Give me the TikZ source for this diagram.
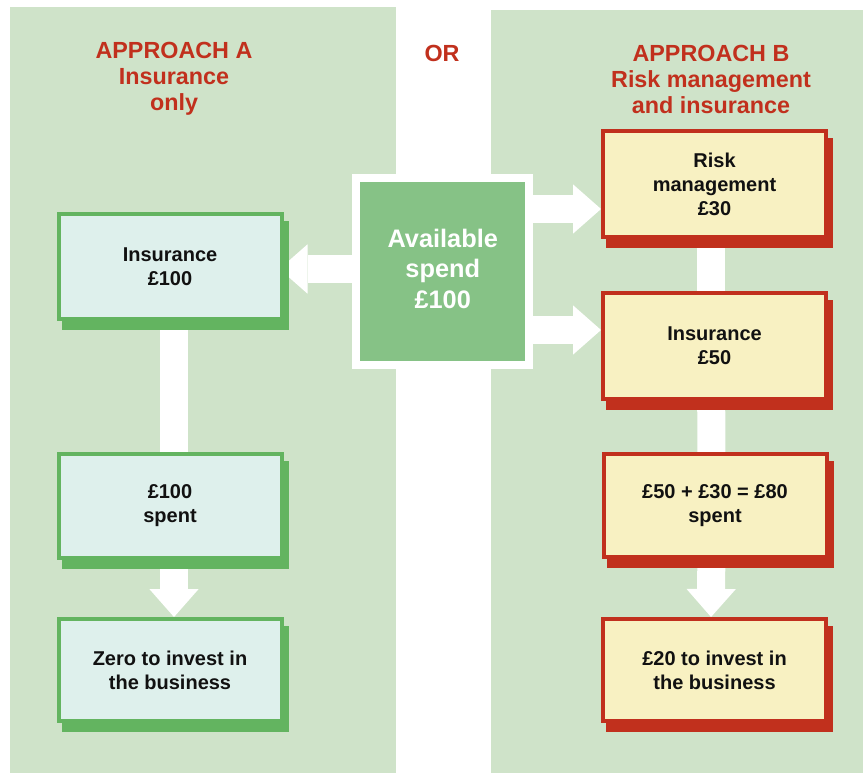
\documentclass[tikz,border=0pt]{standalone}
\usepackage{fontspec}
\setmainfont{Liberation Sans}
\usetikzlibrary{shadows,arrows.meta}
\definecolor{panel}{HTML}{CFE3C9}
\definecolor{bdA}{HTML}{63B460}
\definecolor{fillA}{HTML}{DEF0EC}
\definecolor{bdB}{HTML}{C1301D}
\definecolor{fillB}{HTML}{F8F1C2}
\definecolor{cgreen}{HTML}{86C286}
\definecolor{tred}{HTML}{C1301D}
\definecolor{ink}{HTML}{111111}
\pgfdeclarelayer{back}
\pgfdeclarelayer{links}
\pgfsetlayers{back,links,main}
\tikzset{
  boxbase/.style={rectangle, line width=3pt, minimum width=167.25pt, text=ink,
    align=center, font=\fontsize{15}{18}\selectfont\bfseries, inner sep=0pt},
  boxA/.style={boxbase, draw=bdA, fill=fillA,
    drop shadow={shadow xshift=3.75pt, shadow yshift=-6.75pt, fill=bdA, draw=bdA, line width=3pt, opacity=1}},
  boxB/.style={boxbase, draw=bdB, fill=fillB,
    drop shadow={shadow xshift=3.75pt, shadow yshift=-6.75pt, fill=bdB, draw=bdB, line width=3pt, opacity=1}},
  ttl/.style={text=tred, align=center, font=\fontsize{17.5}{19.5}\selectfont\bfseries, inner sep=0pt},
  bar/.style={draw=white, line width=21pt},
  bigarrow/.style={bar, -{Triangle[length=21pt, width=37pt, line width=0pt]}},
  centrebox/.style={rectangle, fill=cgreen, draw=white, line width=6pt,
    minimum width=130pt, minimum height=140.25pt, inner sep=0pt, text=white,
    align=center, font=\fontsize{19}{23}\selectfont\bfseries, text depth=4.5pt},
}
\begin{document}
\begin{tikzpicture}[x=0.75pt, y=-0.75pt]
\useasboundingbox (0,0) rectangle (863,773);
\begin{pgfonlayer}{back}
  \fill[white] (0,0) rectangle (863,773);
  \fill[panel] (10,7) rectangle (396,773);
  \fill[panel] (491,10) rectangle (863,773);
\end{pgfonlayer}

% titles
\node[ttl] (ta) at (174,79) {APPROACH A\\Insurance\\only};
\node[ttl] (tor) at (442,53) {OR};
\node[ttl] (tb) at (711,79) {APPROACH B\\Risk management\\and insurance};

% centre
\node[centrebox] (cen) at (442.75,271.5) {Available\\spend\\£100};

% approach A
\node[boxA, minimum height=78.75pt] (L1) at (170,266.5) {Insurance\\£100};
\node[boxA, minimum height=78pt] (L2) at (170,506) {£100\\spent};
\node[boxA, minimum height=76.5pt] (L3) at (170,670) {Zero to invest in\\the business};

% approach B
\node[boxB, minimum height=79.5pt] (R1) at (714.5,184) {Risk\\management\\£30};
\node[boxB, minimum height=79.5pt] (R2) at (714.5,346) {Insurance\\£50};
\node[boxB, minimum height=77.25pt] (R3) at (715,505.5) {£50 + £30 = £80\\spent};
\node[boxB, minimum height=76.5pt] (R4) at (714.5,670) {£20 to invest in\\the business};

\begin{pgfonlayer}{links}
  \draw[bigarrow, shorten >=-3pt] (cen.center |- 0,269) -- (L1.east |- 0,269);
  \draw[bigarrow] (cen.center |- 0,209) -- (R1.west |- 0,209);
  \draw[bigarrow] (cen.center |- 0,330) -- (R2.west |- 0,330);
  \draw[bar] ([xshift=3pt]L1.center) -- ([xshift=3pt]L2.center);
  \draw[bigarrow] ([xshift=3pt]L2.center) -- ([xshift=3pt]L3.north);
  \draw[bar] ([xshift=-2.6pt]R1.center) -- ([xshift=-2.6pt]R2.center);
  \draw[bar] ([xshift=-2.6pt]R2.center) -- ([xshift=-2.6pt]R3.center);
  \draw[bigarrow] ([xshift=-2.6pt]R3.center) -- ([xshift=-2.6pt]R4.north);
\end{pgfonlayer}
\end{tikzpicture}
\end{document}
